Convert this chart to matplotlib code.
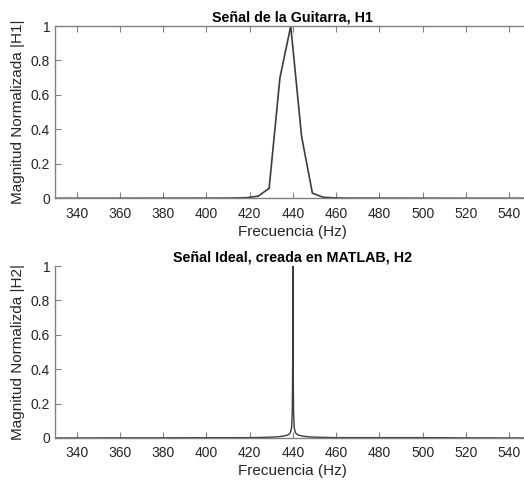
import numpy as np
import matplotlib.pyplot as plt

plt.rcParams['font.family'] = ['Liberation Sans', 'DejaVu Sans']

# Guitar spectrum (H1)
freq_h1 = [330, 409, 414, 419, 424, 429, 434, 439, 444, 449, 454, 459, 464, 550]
mag_h1 = [0.0, 0.001, 0.002, 0.004, 0.013, 0.058, 0.70, 1.0, 0.36, 0.03, 0.006, 0.003, 0.001, 0.0]

# Ideal spectrum (H2), very narrow peak at 440 Hz
freq_h2 = [330, 420, 428, 432, 435, 437, 438, 438.8, 439.4, 439.7, 439.9, 440.0,
           440.1, 440.3, 440.6, 441.2, 442, 443, 445, 448, 452, 460, 500, 517, 550]
mag_h2 = [0.0, 0.002, 0.004, 0.006, 0.01, 0.015, 0.02, 0.03, 0.06, 0.15, 0.45, 1.0,
          0.45, 0.15, 0.06, 0.03, 0.02, 0.015, 0.01, 0.006, 0.004, 0.002, 0.002, 0.001, 0.0]

xticks = [340, 360, 380, 400, 420, 440, 460, 480, 500, 520, 540]
yticks = [0, 0.2, 0.4, 0.6, 0.8, 1]
ylabels = ['0', '0.2', '0.4', '0.6', '0.8', '1']

fig = plt.figure(figsize=(5.24, 4.83), dpi=100)
ax1 = fig.add_axes([0.105, 0.5894, 0.908, 0.3567])
ax2 = fig.add_axes([0.105, 0.0932, 0.908, 0.356])

spine_col = '#808080'
text_col = '#262626'

def style(ax, box):
    ax.set_xlim(330, 550)
    ax.set_ylim(0, 1)
    ax.set_xticks(xticks)
    ax.set_yticks(yticks)
    ax.set_yticklabels(ylabels)
    ax.tick_params(direction='in', length=4, width=0.8, colors=spine_col,
                   labelcolor=text_col, labelsize=10, top=box, right=box)
    ax.tick_params(axis='x', pad=6)
    for s in ax.spines.values():
        s.set_color(spine_col)
        s.set_linewidth(1.0)
    if not box:
        ax.spines['top'].set_visible(False)
        ax.spines['right'].set_visible(False)
    ax.set_xlabel('Frecuencia (Hz)', fontsize=11, color=text_col, labelpad=3)

ax1.plot(freq_h1, mag_h1, color='#3c3c3c', linewidth=1.2)
style(ax1, True)
ax1.set_ylabel('Magnitud Normalizada |H1|', fontsize=11, color=text_col, labelpad=4)
ax1.set_title('Señal de la Guitarra, H1', fontsize=10.3, fontweight='bold', pad=3)

ax2.plot(freq_h2, mag_h2, color='#3c3c3c', linewidth=1.0)
style(ax2, False)
ax2.set_ylabel('Magnitud Normalizda |H2|', fontsize=11, color=text_col, labelpad=4)
ax2.set_title('Señal Ideal, creada en MATLAB, H2', fontsize=10.3, fontweight='bold', pad=3)

fig.savefig('out.png', dpi=100)
